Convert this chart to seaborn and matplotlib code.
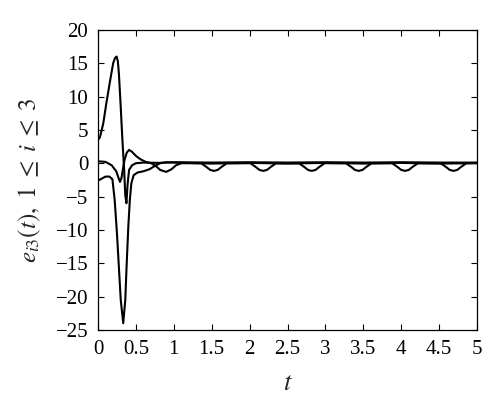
import matplotlib
matplotlib.use("Agg")
import matplotlib.pyplot as plt
import seaborn as sns
import pandas as pd
import numpy as np

# ---- data ----
t_a = [0.0, 0.026, 0.07, 0.11, 0.16, 0.2, 0.225, 0.246, 0.262, 0.276, 0.30, 0.32,
       0.345, 0.36, 0.375, 0.39, 0.41, 0.45, 0.5, 0.6, 0.8, 1.0, 1.5, 2.0, 2.5,
       3.0, 3.5, 4.0, 4.5, 5.0]
v_a = [3.5, 3.9, 6.0, 9.0, 12.4, 15.0, 15.8, 16.0, 15.3, 13.4, 8.4, 3.9,
       -1.0, -4.8, -6.0, -3.2, -1.0, -0.3, 0.0, 0.1, 0.05, 0.15, 0.1, 0.15, 0.1,
       0.15, 0.1, 0.15, 0.1, 0.1]

t_b = [0.0, 0.1, 0.18, 0.24, 0.265, 0.29, 0.31, 0.33, 0.35, 0.38, 0.41, 0.45,
       0.5, 0.56, 0.63, 0.7, 0.76, 0.82, 0.9, 0.97, 1.03, 1.1,
       1.36, 1.43, 1.48, 1.53, 1.58, 1.63, 1.70,
       2.01, 2.08, 2.13, 2.18, 2.23, 2.28, 2.35,
       2.65, 2.72, 2.77, 2.82, 2.87, 2.92, 2.99,
       3.27, 3.34, 3.39, 3.44, 3.49, 3.54, 3.61,
       3.88, 3.95, 4.00, 4.05, 4.10, 4.15, 4.22,
       4.52, 4.59, 4.64, 4.69, 4.74, 4.79, 4.86, 5.0]
v_b = [0.3, 0.2, -0.3, -1.2, -2.0, -2.8, -2.2, -0.8, 0.5, 1.6, 2.0, 1.7,
       1.1, 0.6, 0.2, 0.0, -0.4, -1.0, -1.3, -0.9, -0.3, 0.0,
       0.0, -0.55, -1.0, -1.15, -1.0, -0.55, 0.0,
       0.0, -0.55, -1.0, -1.15, -1.0, -0.55, 0.0,
       0.0, -0.55, -1.0, -1.15, -1.0, -0.55, 0.0,
       0.0, -0.55, -1.0, -1.15, -1.0, -0.55, 0.0,
       0.0, -0.55, -1.0, -1.15, -1.0, -0.55, 0.0,
       0.0, -0.55, -1.0, -1.15, -1.0, -0.55, 0.0, 0.05]

t_c = [0.0, 0.05, 0.1, 0.15, 0.19, 0.22, 0.25, 0.27, 0.30, 0.333, 0.36, 0.377,
       0.40, 0.42, 0.44, 0.47, 0.52, 0.6, 0.68, 0.75, 0.82, 0.9, 1.0, 1.5,
       2.0, 2.5, 3.0, 3.5, 4.0, 4.5, 5.0]
v_c = [-2.6, -2.3, -2.0, -2.0, -2.4, -5.5, -10.5, -14.5, -20.5, -24.0, -20.5, -15.5,
       -9.5, -5.5, -3.0, -1.8, -1.4, -1.2, -0.9, -0.4, 0.0, 0.15, 0.1, -0.05,
       0.05, -0.05, 0.05, -0.05, 0.05, -0.05, 0.0]

x_ticks = [0, 0.5, 1, 1.5, 2, 2.5, 3, 3.5, 4, 4.5, 5]
x_tick_labels = ["0", "0.5", "1", "1.5", "2", "2.5", "3", "3.5", "4", "4.5", "5"]
y_ticks = [-25, -20, -15, -10, -5, 0, 5, 10, 15, 20]
y_tick_labels = ["\u221225", "\u221220", "\u221215", "\u221210", "\u22125", "0", "5", "10", "15", "20"]

df = pd.concat([
    pd.DataFrame({"t": t_a, "e": v_a, "curve": "1"}),
    pd.DataFrame({"t": t_b, "e": v_b, "curve": "2"}),
    pd.DataFrame({"t": t_c, "e": v_c, "curve": "3"}),
])

sns.set_style("ticks")
plt.rcParams["font.family"] = ["Liberation Serif", "DejaVu Serif"]
plt.rcParams["mathtext.fontset"] = "stix"

fig = plt.figure(figsize=(5.0, 4.15), dpi=100)
ax = fig.add_axes([0.196, 0.205, 0.758, 0.723])

sns.lineplot(data=df, x="t", y="e", hue="curve", palette=["black"] * 3,
             linewidth=1.5, legend=False, ax=ax, sort=False)

ax.set_xlim(0, 5)
ax.set_ylim(-25, 20)
ax.set_xticks(x_ticks)
ax.set_xticklabels(x_tick_labels)
ax.set_yticks(y_ticks)
ax.set_yticklabels(y_tick_labels)
ax.tick_params(direction="in", length=4, width=0.8, top=True, right=True,
               labelsize=15, colors="black")
ax.tick_params(axis="x", pad=7)
ax.tick_params(axis="y", pad=7)
for s in ax.spines.values():
    s.set_visible(True)
    s.set_linewidth(0.9)
    s.set_color("black")

ax.set_xlabel("$t$", fontsize=19, labelpad=10)
ax.set_ylabel("$e_{i3}(t),\\;1\\;\\leq\\;i\\;\\leq\\;3$", fontsize=18, labelpad=9)

fig.savefig("out.png", dpi=100, facecolor="white")
